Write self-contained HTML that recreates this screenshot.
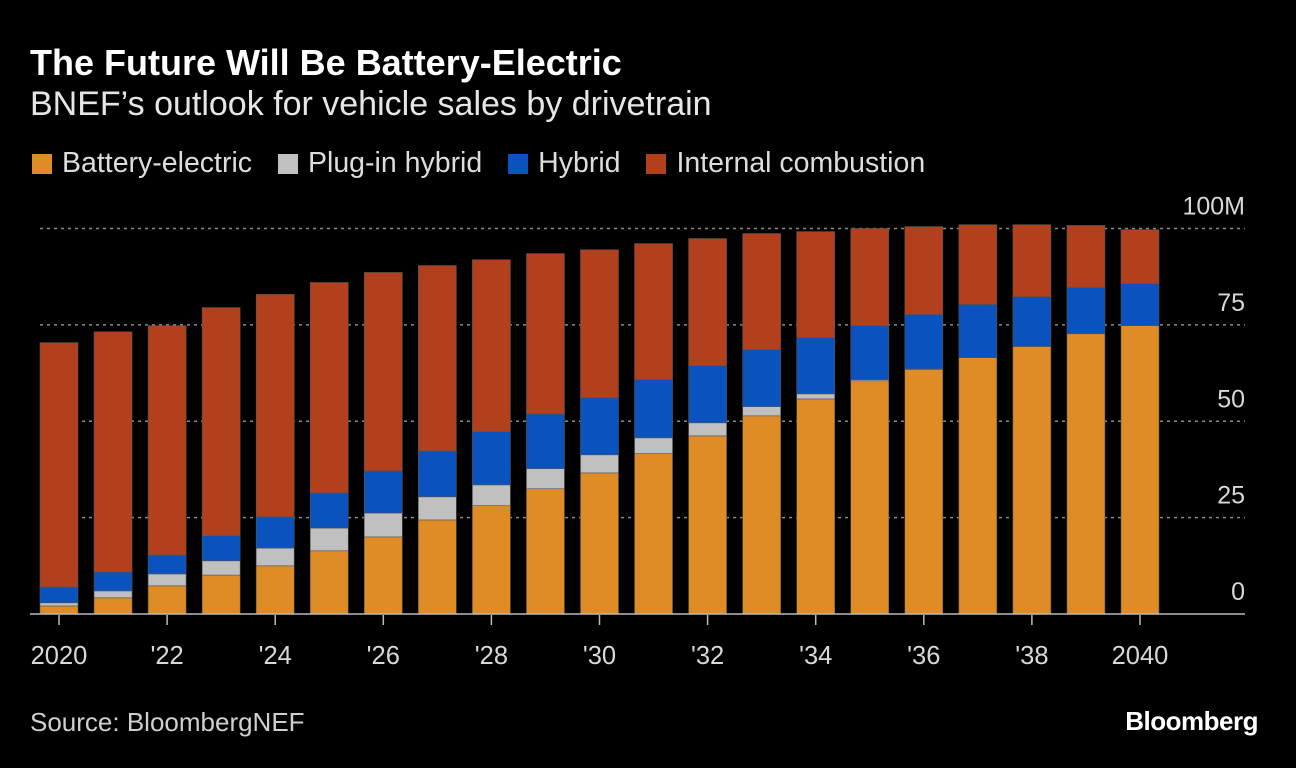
<!DOCTYPE html>
<html><head><meta charset="utf-8"><style>
body{margin:0;background:#000;width:1296px;height:768px;overflow:hidden;font-family:"Liberation Sans",sans-serif;color:#e6e6e6}
.t{position:absolute;white-space:nowrap}
</style></head><body>
<div class="t" style="left:30px;top:42px;font-size:36px;font-weight:bold;color:#fff">The Future Will Be Battery-Electric</div>
<div class="t" style="left:30px;top:85px;font-size:34px;color:#e6e6e6">BNEF’s outlook for vehicle sales by drivetrain</div>
<div class="t" style="left:32px;top:147px;font-size:28.5px;color:#ddd">
<span><span style="display:inline-block;width:20px;height:20px;background:#df8c26;margin-right:10px;vertical-align:-2px"></span>Battery-electric</span>
<span style="margin-left:18px"><span style="display:inline-block;width:20px;height:20px;background:#c0c0c0;margin-right:10px;vertical-align:-2px"></span>Plug-in hybrid</span>
<span style="margin-left:18px"><span style="display:inline-block;width:20px;height:20px;background:#0a52bd;margin-right:10px;vertical-align:-2px"></span>Hybrid</span>
<span style="margin-left:18px"><span style="display:inline-block;width:20px;height:20px;background:#b2401d;margin-right:10px;vertical-align:-2px"></span>Internal combustion</span>
</div>
<svg id="chart" width="1296" height="768" style="position:absolute;left:0;top:0"></svg>
<div class="t" style="left:30px;top:707px;font-size:26px;color:#cfcfcf">Source: BloombergNEF</div>
<div class="t" style="right:38px;top:706px;font-size:26px;font-weight:bold;color:#fff;letter-spacing:-0.5px">Bloomberg</div>
<script>
const years=[2020,2021,2022,2023,2024,2025,2026,2027,2028,2029,2030,2031,2032,2033,2034,2035,2036,2037,2038,2039,2040];
const bev=[2.1,4.2,7.3,10.1,12.5,16.4,20,24.4,28.1,32.5,36.6,41.6,46.2,51.4,55.8,60.5,63.4,66.5,69.4,72.7,74.8];
const phev=[0.8,1.8,3.1,3.7,4.6,5.9,6.2,6.0,5.4,5.2,4.7,4.1,3.4,2.4,1.3,0.3,0.2,0,0,0,0];
const hybrid=[4.1,4.9,4.9,6.5,8.1,9.1,10.9,11.9,13.8,14.2,14.8,15.1,14.8,14.8,14.6,14.0,14.1,13.8,12.9,12.0,10.9];
const ice=[63.4,62.3,59.5,59.2,57.7,54.6,51.5,48.1,44.6,41.6,38.4,35.3,33.0,30.1,27.5,25.2,22.8,20.7,18.7,16.1,14.0];
const yTicks=[0,25,50,75,100];
const yTickLabels=["0","25","50","75","100M"];
const xLabelYears=[2020,2022,2024,2026,2028,2030,2032,2034,2036,2038,2040];
const xLabels=["2020","'22","'24","'26","'28","'30","'32","'34","'36","'38","2040"];
const NS="http://www.w3.org/2000/svg";
const svg=document.getElementById('chart');
const y=v=>614-v*3.855;
const x=yr=>59+(yr-2020)*54.05;
const bw=38;
function mk(t,a){const e=document.createElementNS(NS,t);for(const k in a)e.setAttribute(k,a[k]);svg.appendChild(e);return e;}
yTicks.forEach((v,i)=>{
 if(v>0){const l=mk('line',{x1:40,x2:1245,y1:y(v),y2:y(v),stroke:'#8a8a8a','stroke-width':1.5,'stroke-dasharray':'3,4'});
 }
 const t=mk('text',{x:1245,y:y(v)-14,'text-anchor':'end','font-size':25,fill:'#d8d8d8','font-family':'Liberation Sans, sans-serif'});
 t.textContent=yTickLabels[i];
 
});
const series=[[bev,'#df8c26','bev'],[phev,'#c0c0c0','phev'],[hybrid,'#0a52bd','hybrid'],[ice,'#b2401d','ice']];
years.forEach((yr,i)=>{
 let base=0;
 series.forEach(([arr,c,n])=>{
  const v=arr[i];if(v<=0)return;
  const r=mk('rect',{x:x(yr)-bw/2,y:y(base+v),width:bw,height:v*3.855,fill:c,stroke:'#555','stroke-width':0.6});
  
  base+=v;
 });
});
const ax=mk('line',{x1:30,x2:1245,y1:614,y2:614,stroke:'#bbb','stroke-width':1.5});

xLabelYears.forEach((yr,i)=>{
 const tk=mk('line',{x1:x(yr),x2:x(yr),y1:615,y2:625,stroke:'#bbb','stroke-width':1.5});
 
 const t=mk('text',{x:x(yr),y:664,'text-anchor':'middle','font-size':25.5,fill:'#d8d8d8','font-family':'Liberation Sans, sans-serif'});
 t.textContent=xLabels[i];
 
});
</script>
</body></html>
